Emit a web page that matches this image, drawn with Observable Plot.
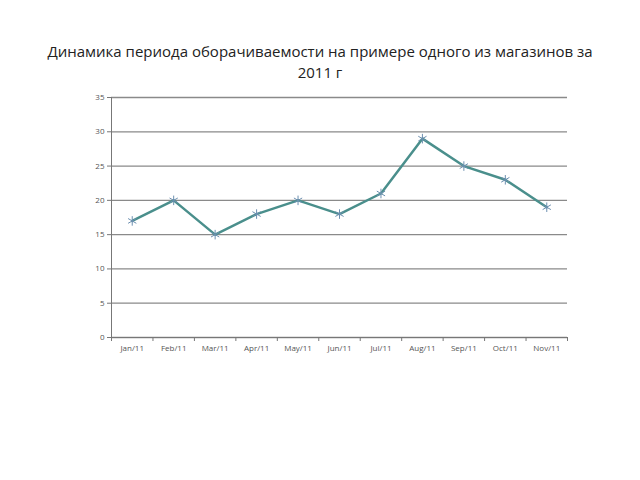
<!DOCTYPE html>
<html><head><meta charset="utf-8">
<script src="https://cdn.jsdelivr.net/npm/d3@7"></script>
<script src="https://cdn.jsdelivr.net/npm/@observablehq/plot@0.6"></script>
<style>
body{margin:0;background:#fff;font-family:"Open Sans",sans-serif;}
#title{padding-top:41px;height:44px;text-align:center;font-size:15px;line-height:21px;color:#222;width:560px;margin-left:40px;}
</style></head>
<body>
<div id="title">Динамика периода оборачиваемости на примере одного из магазинов за 2011 г</div>
<div id="chart"></div>
<script>
const months = ["Jan/11","Feb/11","Mar/11","Apr/11","May/11","Jun/11","Jul/11","Aug/11","Sep/11","Oct/11","Nov/11"];
const values = [17,20,15,18,20,18,21,29,25,23,19];
const yTicks = [0,5,10,15,20,25,30,35];
const data = months.map((m,i)=>({i: i+0.5, m, v: values[i]}));
const chart = Plot.plot({
  width:640, height:282,
  marginTop:12, marginLeft:111, marginRight:73, marginBottom:30,
  style:{fontFamily:"Open Sans, sans-serif", fontSize:"8px", color:"#555"},
  x:{domain:[0,months.length]},
  y:{domain:[0,35]},
  marks:[
    Plot.gridY(yTicks,{stroke:"#8a8a8a", strokeOpacity:1, strokeWidth:1.3}),
    Plot.axisY({ticks:yTicks, tickSize:4, tickPadding:3, label:null, stroke:"#777"}),
    Plot.ruleX([0],{stroke:"#777"}),
    Plot.ruleY([0],{stroke:"#777"}),
    Plot.axisX({ticks:d3.range(months.length+1), tickSize:4, tickFormat:()=>"", label:null, stroke:"#777"}),
    Plot.axisX({ticks:data.map(d=>d.i), tickSize:0, tickPadding:8, tickFormat:(d)=>months[Math.floor(d)], label:null}),
    Plot.line(data,{x:"i", y:"v", stroke:"#4a8f8c", strokeWidth:2.5}),
    Plot.dot(data,{x:"i", y:"v", symbol:"asterisk", r:4.5, stroke:"#6c8fb0", strokeWidth:1})
  ]
});
document.getElementById("chart").appendChild(chart);
</script>
</body></html>
